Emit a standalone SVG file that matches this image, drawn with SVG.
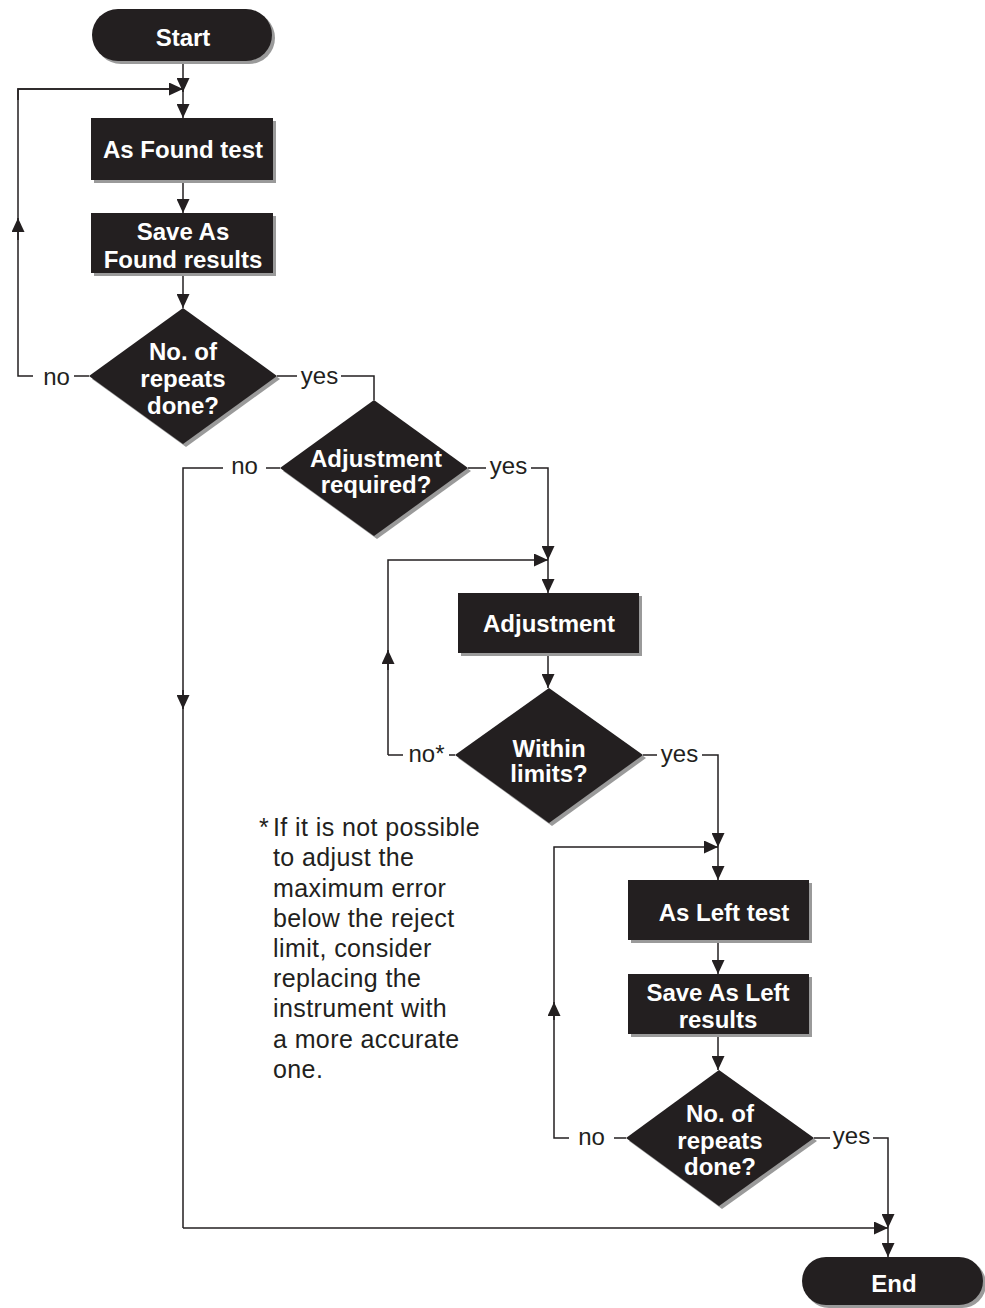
<svg xmlns="http://www.w3.org/2000/svg" width="985" height="1308" viewBox="0 0 985 1308">
<style>
.sh{fill:#9a9a9a}
.nd{fill:#231f20}
.nt{font-family:"Liberation Sans",Arial,sans-serif;font-weight:bold;font-size:24px;fill:#ffffff;text-anchor:middle}
.lb{font-family:"Liberation Sans",Arial,sans-serif;font-size:24px;fill:#231f20;text-anchor:middle}
.fn{font-family:"Liberation Sans",Arial,sans-serif;font-size:25px;letter-spacing:0.4px;fill:#231f20}
.ln{fill:none;stroke:#231f20;stroke-width:1.5}
.ar{fill:none;stroke:#231f20;stroke-width:1.5;marker-end:url(#ah)}
</style>
<defs>
<marker id="ah" viewBox="0 0 14 13" refX="14" refY="6.5" markerWidth="14" markerHeight="13" markerUnits="userSpaceOnUse" orient="auto">
<path d="M0,0 L14,6.5 L0,13 z" fill="#231f20"/>
</marker>
</defs>
<g id="connectors">
<path class="ar" d="M183,62 L183,92"/>
<path class="ar" d="M183,89 L183,118"/>
<path class="ar" d="M183,180 L183,213"/>
<path class="ar" d="M183,273 L183,308"/>
<path class="ln" d="M33,376 L18,376 L18,89 L183,89"/>
<path class="ar" d="M18,240 L18,218"/>
<path class="ar" d="M18,100 L18,89 L183,89"/>
<path class="ln" d="M74,376 L89,376"/>
<path class="ln" d="M277,376 L297,376"/>
<path class="ln" d="M341,376 L374,376 L374,400"/>
<path class="ln" d="M266,468 L280,468"/>
<path class="ln" d="M223,468 L183,468 L183,1228"/>
<path class="ar" d="M183,690 L183,709"/>
<path class="ar" d="M183,1228 L888,1228"/>
<path class="ln" d="M468,468 L486,468"/>
<path class="ar" d="M531,468 L548,468 L548,560"/>
<path class="ar" d="M548,560 L548,593"/>
<path class="ar" d="M388,755 L388,560 L548,560"/>
<path class="ar" d="M388,670 L388,650"/>
<path class="ln" d="M403,755 L388,755"/>
<path class="ln" d="M449,755 L455,755"/>
<path class="ar" d="M548,653 L548,688"/>
<path class="ln" d="M643,755 L657,755"/>
<path class="ar" d="M702,755 L718,755 L718,847"/>
<path class="ar" d="M718,847 L718,880"/>
<path class="ar" d="M569,1138 L554,1138 L554,847 L718,847"/>
<path class="ar" d="M554,1020 L554,1002"/>
<path class="ln" d="M614,1138 L626,1138"/>
<path class="ar" d="M718,940 L718,974"/>
<path class="ar" d="M718,1034 L718,1070"/>
<path class="ln" d="M814,1138 L830,1138"/>
<path class="ar" d="M873,1138 L888,1138 L888,1228"/>
<path class="ar" d="M888,1228 L888,1257"/>
<text class="lb" x="56.5" y="385">no</text>
<text class="lb" x="319.5" y="384">yes</text>
<text class="lb" x="244.5" y="474">no</text>
<text class="lb" x="508.5" y="474">yes</text>
<text class="lb" x="426.5" y="762">no*</text>
<text class="lb" x="679.5" y="762">yes</text>
<text class="lb" x="591.5" y="1145">no</text>
<text class="lb" x="851.5" y="1144">yes</text>
</g>
<g id="start">
<rect class="sh" x="95" y="12" width="180" height="52" rx="26"/>
<rect class="nd" x="92" y="9" width="180" height="52" rx="26"/>
<text class="nt" x="183" y="46">Start</text>
</g>
<g id="as-found-test">
<rect class="sh" x="94" y="121" width="182" height="62"/>
<rect class="nd" x="91" y="118" width="182" height="62"/>
<text class="nt" x="183" y="158">As Found test</text>
</g>
<g id="save-as-found">
<rect class="sh" x="94" y="216" width="182" height="60"/>
<rect class="nd" x="91" y="213" width="182" height="60"/>
<text class="nt" x="183" y="240">Save As</text>
<text class="nt" x="183" y="268">Found results</text>
</g>
<g id="repeats-1">
<polygon class="sh" points="186,311 280,379 186,447 92,379"/>
<polygon class="nd" points="183,308 277,376 183,444 89,376"/>
<text class="nt" x="183" y="360">No. of</text>
<text class="nt" x="183" y="387">repeats</text>
<text class="nt" x="183" y="414">done?</text>
</g>
<g id="adjustment-required">
<polygon class="sh" points="377,403 471,471 377,539 283,471"/>
<polygon class="nd" points="374,400 468,468 374,536 280,468"/>
<text class="nt" x="376" y="467">Adjustment</text>
<text class="nt" x="376" y="493">required?</text>
</g>
<g id="adjustment">
<rect class="sh" x="461" y="596" width="181" height="60"/>
<rect class="nd" x="458" y="593" width="181" height="60"/>
<text class="nt" x="549" y="632">Adjustment</text>
</g>
<g id="within-limits">
<polygon class="sh" points="552,691 646,758 552,826 458,758"/>
<polygon class="nd" points="549,688 643,755 549,823 455,755"/>
<text class="nt" x="549" y="757">Within</text>
<text class="nt" x="549" y="782">limits?</text>
</g>
<g id="as-left-test">
<rect class="sh" x="631" y="883" width="181" height="60"/>
<rect class="nd" x="628" y="880" width="181" height="60"/>
<text class="nt" x="724" y="921">As Left test</text>
</g>
<g id="save-as-left">
<rect class="sh" x="631" y="977" width="181" height="60"/>
<rect class="nd" x="628" y="974" width="181" height="60"/>
<text class="nt" x="718" y="1001">Save As Left</text>
<text class="nt" x="718" y="1028">results</text>
</g>
<g id="repeats-2">
<polygon class="sh" points="722,1073 817,1141 722,1209 629,1141"/>
<polygon class="nd" points="719,1070 814,1138 719,1206 626,1138"/>
<text class="nt" x="720" y="1122">No. of</text>
<text class="nt" x="720" y="1149">repeats</text>
<text class="nt" x="720" y="1175">done?</text>
</g>
<g id="end">
<rect class="sh" x="805" y="1260" width="181" height="48" rx="24"/>
<rect class="nd" x="802" y="1257" width="181" height="48" rx="24"/>
<text class="nt" x="894" y="1292">End</text>
</g>
<g id="footnote">
<text class="fn" x="259" y="836">*</text>
<text class="fn" x="273" y="836">If it is not possible</text>
<text class="fn" x="273" y="866">to adjust the</text>
<text class="fn" x="273" y="896.5">maximum error</text>
<text class="fn" x="273" y="926.5">below the reject</text>
<text class="fn" x="273" y="957">limit, consider</text>
<text class="fn" x="273" y="987">replacing the</text>
<text class="fn" x="273" y="1017">instrument with</text>
<text class="fn" x="273" y="1047.5">a more accurate</text>
<text class="fn" x="273" y="1077.5">one.</text>
</g>
</svg>
